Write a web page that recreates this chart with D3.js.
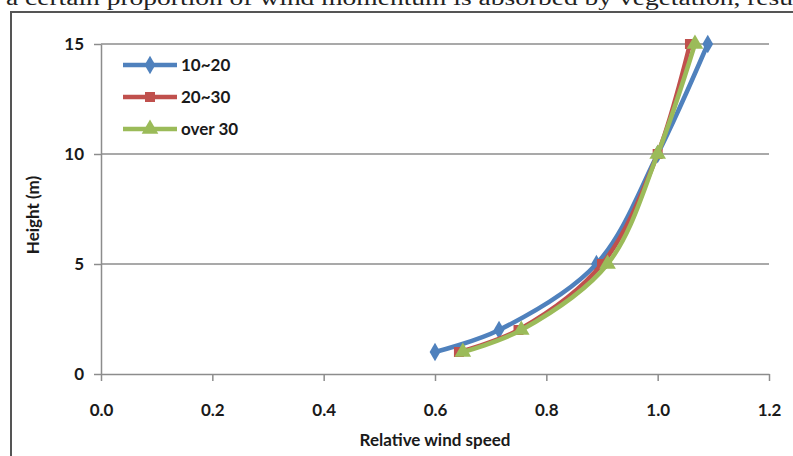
<!DOCTYPE html>
<html>
<head>
<meta charset="utf-8">
<script src="https://cdn.jsdelivr.net/npm/d3@7"></script>
<style>
  body { margin: 0; background: #fff; }
  svg { display: block; }
  text { font-family: Lato, "Open Sans", sans-serif; }
</style>
</head>
<body>
<svg id="canvas" width="793" height="456"></svg>
<script>
// values
let heights = [1, 2, 5, 10, 15]
let speed1020 = [0.60, 0.715, 0.89, 1.00, 1.09]
let speed2030 = [0.643, 0.75, 0.90, 1.00, 1.058]
let speedOver30 = [0.65, 0.755, 0.91, 1.00, 1.067]
let seriesNames = ['10~20', '20~30', 'over 30']
let xTicks = [0, 0.2, 0.4, 0.6, 0.8, 1.0, 1.2]
let yTicks = [0, 5, 10, 15]

let colors = ['#4f81bd', '#c0504d', '#9bbb59']
let symbols = [d3.symbolDiamond, d3.symbolSquare, d3.symbolTriangle]

let series = [speed1020, speed2030, speedOver30].map((vals, i) => {
    return {
        name: seriesNames[i],
        points: vals.map((v, j) => ({ x: v, y: heights[j] }))
    }
})

let canvas = d3.select('#canvas')

// cut-off line of body text above the figure
canvas.append('text')
    .attr('x', 6)
    .attr('y', 5)
    .attr('textLength', 787)
    .attr('lengthAdjust', 'spacingAndGlyphs')
    .style('font-family', '"Liberation Serif", serif')
    .style('font-size', '20px')
    .attr('fill', '#222')
    .text('a certain proportion of wind momentum is absorbed by vegetation, resu')

// figure frame
canvas.append('path')
    .attr('d', 'M11,456 L11,12 L793,12')
    .attr('fill', 'none')
    .attr('stroke', '#555')
    .attr('stroke-width', 2)

let xScale = d3.scaleLinear().domain([0, 1.2]).range([101, 769])
let yScale = d3.scaleLinear().domain([0, 15]).range([374, 44])

// gridlines
canvas.append('g')
    .selectAll('line')
    .data(yTicks.filter(d => d > 0))
    .enter()
    .append('line')
    .attr('x1', xScale(0))
    .attr('x2', xScale(1.2))
    .attr('y1', d => yScale(d))
    .attr('y2', d => yScale(d))
    .attr('stroke', '#8c8c8c')
    .attr('stroke-width', 1.5)

let xAxis = d3.axisBottom(xScale)
    .tickValues(xTicks)
    .tickFormat(d3.format('.1f'))
    .tickSize(7)
    .tickSizeOuter(0)
    .tickPadding(23)

let yAxis = d3.axisLeft(yScale)
    .tickValues(yTicks)
    .tickSize(7)
    .tickSizeOuter(0)
    .tickPadding(10)

let gx = canvas.append('g')
    .attr('transform', 'translate(0,' + yScale(0) + ')')
    .call(xAxis)
let gy = canvas.append('g')
    .attr('transform', 'translate(' + xScale(0) + ',0)')
    .call(yAxis)

;[gx, gy].forEach((g) => {
    g.select('.domain').attr('stroke', '#8c8c8c').attr('stroke-width', 1.5)
    g.selectAll('.tick line').attr('stroke', '#8c8c8c').attr('stroke-width', 1.5)
    g.selectAll('.tick text')
        .style('font-family', 'Lato, sans-serif')
        .style('font-size', '17px')
        .style('font-weight', 'bold')
        .attr('fill', '#1a1a1a')
})
gy.selectAll('.tick text').attr('dy', '0.35em')

// axis titles
canvas.append('text')
    .attr('x', 435)
    .attr('y', 446)
    .attr('text-anchor', 'middle')
    .style('font-size', '17px')
    .style('font-weight', 'bold')
    .attr('fill', '#1a1a1a')
    .text('Relative wind speed')

canvas.append('text')
    .attr('transform', 'translate(39,215) rotate(-90)')
    .attr('text-anchor', 'middle')
    .style('font-size', '17px')
    .style('font-weight', 'bold')
    .attr('fill', '#1a1a1a')
    .text('Height (m)')

let line = d3.line()
    .x(d => xScale(d.x))
    .y(d => yScale(d.y))
    .curve(d3.curveCatmullRom.alpha(0.5))

let groups = canvas.selectAll('.series')
    .data(series)
    .enter()
    .append('g')
    .attr('class', 'series')

groups.append('path')
    .attr('d', d => line(d.points))
    .attr('fill', 'none')
    .attr('stroke', (d, i) => colors[i])
    .attr('stroke-width', 4.5)
    .attr('stroke-linejoin', 'round')

groups.each(function (d, i) {
    d3.select(this).selectAll('path.marker')
        .data(d.points)
        .enter()
        .append('path')
        .attr('class', 'marker')
        .attr('d', d3.symbol().type(symbols[i]).size(i === 2 ? 120 : 100))
        .attr('transform', p => 'translate(' + xScale(p.x) + ',' + yScale(p.y) + ')')
        .attr('fill', colors[i])
})

// legend
let legend = canvas.append('g')
    .selectAll('g')
    .data(series)
    .enter()
    .append('g')
    .attr('transform', (d, i) => 'translate(123,' + (65 + i * 32) + ')')

legend.append('line')
    .attr('x1', 0)
    .attr('x2', 54)
    .attr('stroke', (d, i) => colors[i])
    .attr('stroke-width', 4.5)

legend.append('path')
    .attr('d', (d, i) => d3.symbol().type(symbols[i]).size(i === 2 ? 120 : 100)())
    .attr('transform', 'translate(27,0)')
    .attr('fill', (d, i) => colors[i])

legend.append('text')
    .attr('x', 58)
    .attr('dy', '0.35em')
    .style('font-size', '17px')
    .style('font-weight', 'bold')
    .attr('fill', '#1a1a1a')
    .text(d => d.name)
</script>
</body>
</html>
